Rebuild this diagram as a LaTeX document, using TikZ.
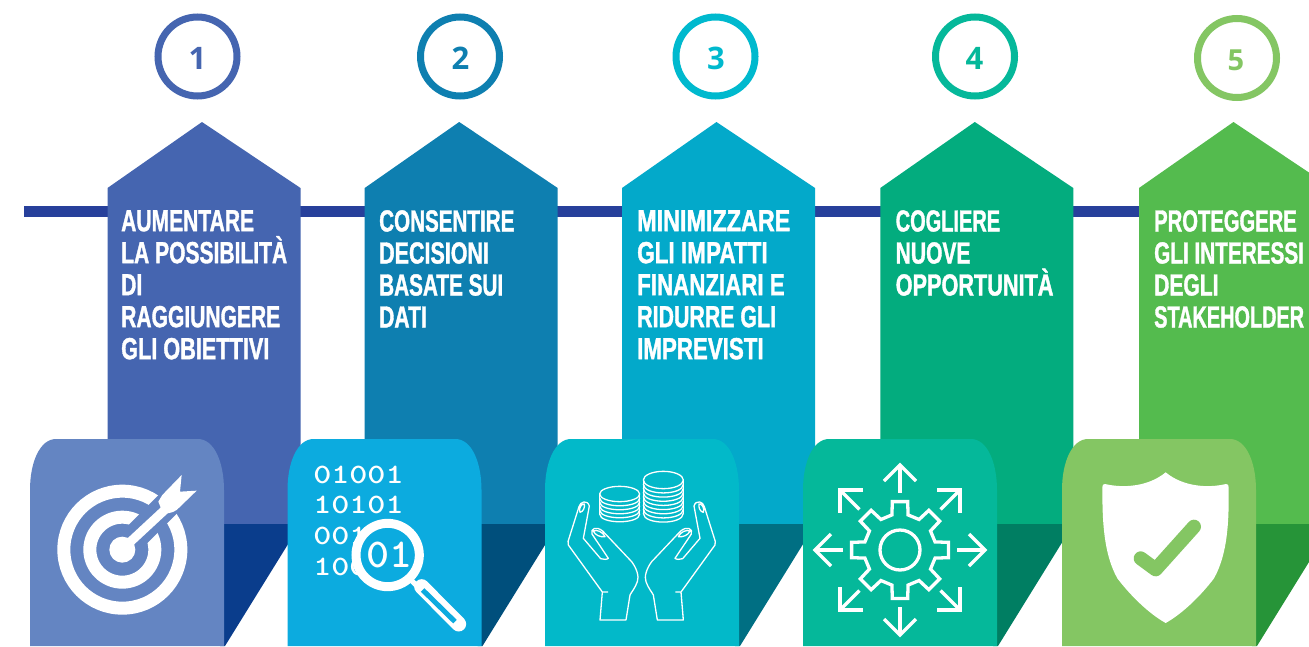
\documentclass[tikz,border=0pt]{standalone}
\usepackage{fontspec}
\usepackage{graphicx}
\newfontfamily\condf[FakeStretch=0.69,FakeBold=1.2]{Liberation Sans}
\newfontfamily\numf{Open Sans}
\newcommand{\sxw}[2]{\scalebox{#1}[1]{#2}}
\definecolor{a1}{HTML}{4565B0}\definecolor{a2}{HTML}{0E7FB0}\definecolor{a3}{HTML}{03A9CA}\definecolor{a4}{HTML}{03AC7E}\definecolor{a5}{HTML}{54BB4E}
\definecolor{c1}{HTML}{6485C2}\definecolor{c2}{HTML}{0CABDF}\definecolor{c3}{HTML}{02B9C9}\definecolor{c4}{HTML}{05B89A}\definecolor{c5}{HTML}{84C663}
\definecolor{d1}{HTML}{0A3D8C}\definecolor{d2}{HTML}{004F7C}\definecolor{d3}{HTML}{006F83}\definecolor{d4}{HTML}{007E62}\definecolor{d5}{HTML}{269438}
\definecolor{r1}{HTML}{4565B0}\definecolor{r2}{HTML}{0E7FB0}\definecolor{r3}{HTML}{00B9CE}\definecolor{r4}{HTML}{05B89A}\definecolor{r5}{HTML}{84C663}
\definecolor{railc}{HTML}{27409B}
\tikzset{
  ringnode/.style={circle,draw=#1,line width=7pt,minimum size=79pt,inner sep=0pt},
  digit/.style={inner sep=0pt,text=#1,font=\numf\bfseries\fontsize{31}{31}\selectfont},
  headtext/.style={anchor=north west,inner sep=0pt,align=left,text=white,font=\condf\bfseries\fontsize{30.5}{32}\selectfont},
  thinline/.style={draw=white,line width=1.3pt,line join=round,line cap=round},
  iconline/.style={draw=white,line width=3.3pt,line join=miter},
  bintext/.style={anchor=base west,inner sep=0pt,text=white,xscale=1.23,transform shape,font=\ttfamily\bfseries\fontsize{28}{28}\selectfont},
}
\def\handpath{(217,486) -- (233,486) (217,486) -- (115,345) .. controls (112,338) and (115,330) .. (118,322) -- (147,230) .. controls (150,215) and (172,208) .. (178,228) -- (160,325) -- (212,386) .. controls (220,390) and (232,388) .. (235,385) -- (186,312) .. controls (180,295) and (200,288) .. (218,303) -- (305,395) .. controls (320,415) and (328,440) .. (322,455) .. controls (315,475) and (305,485) .. (300,495) -- (288,570) -- (210,570) -- cycle
  (150,247) .. controls (145,235) and (155,220) .. (163,222) .. controls (165,232) and (160,245) .. (150,247)
  (190,303) .. controls (200,298) and (218,305) .. (225,320) .. controls (210,322) and (195,315) .. (190,303)}
\begin{document}
\begin{tikzpicture}[x=1pt,y=-1pt]
\clip (0,0) rectangle (1309,646);
\fill[white] (0,0) rectangle (1309,646);
% rail
\fill[railc] (24,206) rectangle (1200,217);
% panels
\foreach \i/\ax/\cx in {1/107.5/30,2/364.7/287.5,3/622/545,4/880.3/803,5/1139/1062}{
  \fill[a\i] (\ax,188) -- ({\ax+94.5},122) -- ({\ax+193},188) -- ({\ax+193},524) -- (\ax,524) -- cycle;
  \fill[d\i] ({\cx+190},524) -- ({\cx+270.5},524) -- ({\cx+195},646) -- ({\cx+190},646) -- cycle;
  \fill[c\i] (\cx,646) -- (\cx,490) .. controls (\cx,462) and ({\cx+10},439) .. ({\cx+26},439) -- ({\cx+168},439) .. controls ({\cx+184},439) and ({\cx+194},462) .. ({\cx+194},490) -- ({\cx+194},646) -- cycle;
}
% numbers
\node[ringnode=r1] (n1) at (197.5,56.5) {};
\node[ringnode=r2] (n2) at (460,56.5) {};
\node[ringnode=r3] (n3) at (715.5,56.5) {};
\node[ringnode=r4] (n4) at (975,56.5) {};
\node[ringnode=r5] (n5) at (1237,58) {};
\node[digit=r1] (m1) at (197.5,58) {1};
\node[digit=r2] (m2) at (460.5,58) {2};
\node[digit=r3] (m3) at (716,58) {3};
\node[digit=r4] (m4) at (974.5,58) {4};
\node[digit=r5,font=\numf\bfseries\fontsize{29}{29}\selectfont] (m5) at (1236,60) {5};
% headings
\node[headtext] (t1) at (121,210) {AUMENTARE\\LA POSSIBILITÀ\\DI\\RAGGIUNGERE\\\sxw{1.03}{GLI OBIETTIVI}};
\node[headtext] (t2) at (379,210) {\sxw{0.98}{CONSENTIRE}\\\sxw{1.02}{DECISIONI}\\\sxw{0.985}{BASATE SUI}\\DATI};
\node[headtext] (t3) at (637,210) {\sxw{1.11}{MINIMIZZARE}\\\sxw{1.07}{GLI IMPATTI}\\\sxw{1.06}{FINANZIARI E}\\\sxw{1.015}{RIDURRE GLI}\\\sxw{1.06}{IMPREVISTI}};
\node[headtext] (t4) at (895.5,210) {\sxw{0.95}{COGLIERE}\\NUOVE\\\sxw{1.03}{OPPORTUNITÀ}};
\node[headtext] (t5) at (1154,210) {\sxw{0.96}{PROTEGGERE}\\\sxw{0.985}{GLI INTERESSI}\\DEGLI\\\sxw{0.945}{STAKEHOLDER}};
% target icon
\begin{scope}[shift={(0,420)},scale=0.33333]
  \draw[white,line width=13pt] (367,389) circle[radius=175.5];
  \draw[white,line width=13pt] (367,389) circle[radius=97.5];
  \draw[c1,line width=26pt] (399,357) -- (540,216);
  \fill[white] (367,389) circle[radius=39];
  \draw[white,line width=9pt] (385,371) -- (510,255);
  \fill[white] (545,165) -- (540,215) -- (590,212) -- (530,270) .. controls (515,280) and (500,280) .. (490,282) -- (475,245) -- (487,225) -- cycle;
\end{scope}
% data icon
\node[bintext] (b1) at (313,483.5) {01001};
\node[bintext] (b2) at (313,513.5) {10101};
\node[bintext] (b3) at (313,544) {001};
\node[bintext] (b4) at (313,575) {100};
\begin{scope}[shift={(0,420)},scale=0.33333]
  \draw[white,line width=9pt,fill=c2] (1163,405) circle[radius=95];
  \draw[white,line width=5pt] (1228,475) -- (1258,505);
  \draw[white,line width=15pt,line cap=round] (1265,500) -- (1376,612);
  \draw[c2,line width=5pt] (1268,510) -- (1365,605);
\end{scope}
\node[bintext,xscale=0.87,font=\ttfamily\bfseries\fontsize{41}{41}\selectfont] (b5) at (366,567) {01};
% hands and coins icon
\begin{scope}[shift={(530,430)},scale=0.33333]
  \draw[thinline] (269,192) ellipse[x radius=60,y radius=23];
  \draw[thinline] (209,192) -- (209,252) (329,192) -- (329,252);
  \foreach \y in {204,216,228,240,252}
    \draw[thinline] (209,\y) .. controls (209,\y+31) and (329,\y+31) .. (329,\y);
  \draw[thinline] (400,150) ellipse[x radius=60,y radius=26];
  \draw[thinline] (340,150) -- (340,250) (460,150) -- (460,250);
  \foreach \y in {162.5,175,187.5,200,212.5,225,237.5,250}
    \draw[thinline] (340,\y) .. controls (340,\y+35) and (460,\y+35) .. (460,\y);
  \draw[thinline] \handpath;
  \begin{scope}[shift={(670,0)},xscale=-1]
    \draw[thinline] \handpath;
  \end{scope}
\end{scope}
% gear icon
\begin{scope}[shift={(530,430)},scale=0.33333]
  \begin{scope}[shift={(1110,360)}]
    \draw[iconline] (0,0) circle[radius=60];
    \draw[iconline] (-13:108) \foreach \a in {0,45,...,315}{ -- ({\a-13}:108) -- ({\a-9}:147) -- ({\a+9}:147) -- ({\a+13}:108) } -- cycle;
    \foreach \a in {0,45,...,315}{
      \draw[iconline] (\a:172) -- (\a:252);
      \draw[iconline] ([rotate=\a]207,-48) -- ([rotate=\a]255,0) -- ([rotate=\a]207,48);
    }
  \end{scope}
\end{scope}
% shield icon
\begin{scope}[shift={(1040,430)},scale=0.33333]
  \fill[white] (377,127) .. controls (325,170) and (250,175) .. (195,162) .. controls (189,162) and (187,165) .. (187,172) .. controls (187,270) and (190,370) .. (232,445) .. controls (270,495) and (325,550) .. (377,579) .. controls (429,550) and (484,495) .. (522,445) .. controls (564,370) and (567,270) .. (566,172) .. controls (566,165) and (564,162) .. (558,162) .. controls (503,175) and (429,170) .. (377,127) -- cycle;
  \draw[c5,line width=14pt,line cap=round,line join=round] (302,385) -- (347,418) -- (462,290);
\end{scope}
\end{tikzpicture}
\end{document}
